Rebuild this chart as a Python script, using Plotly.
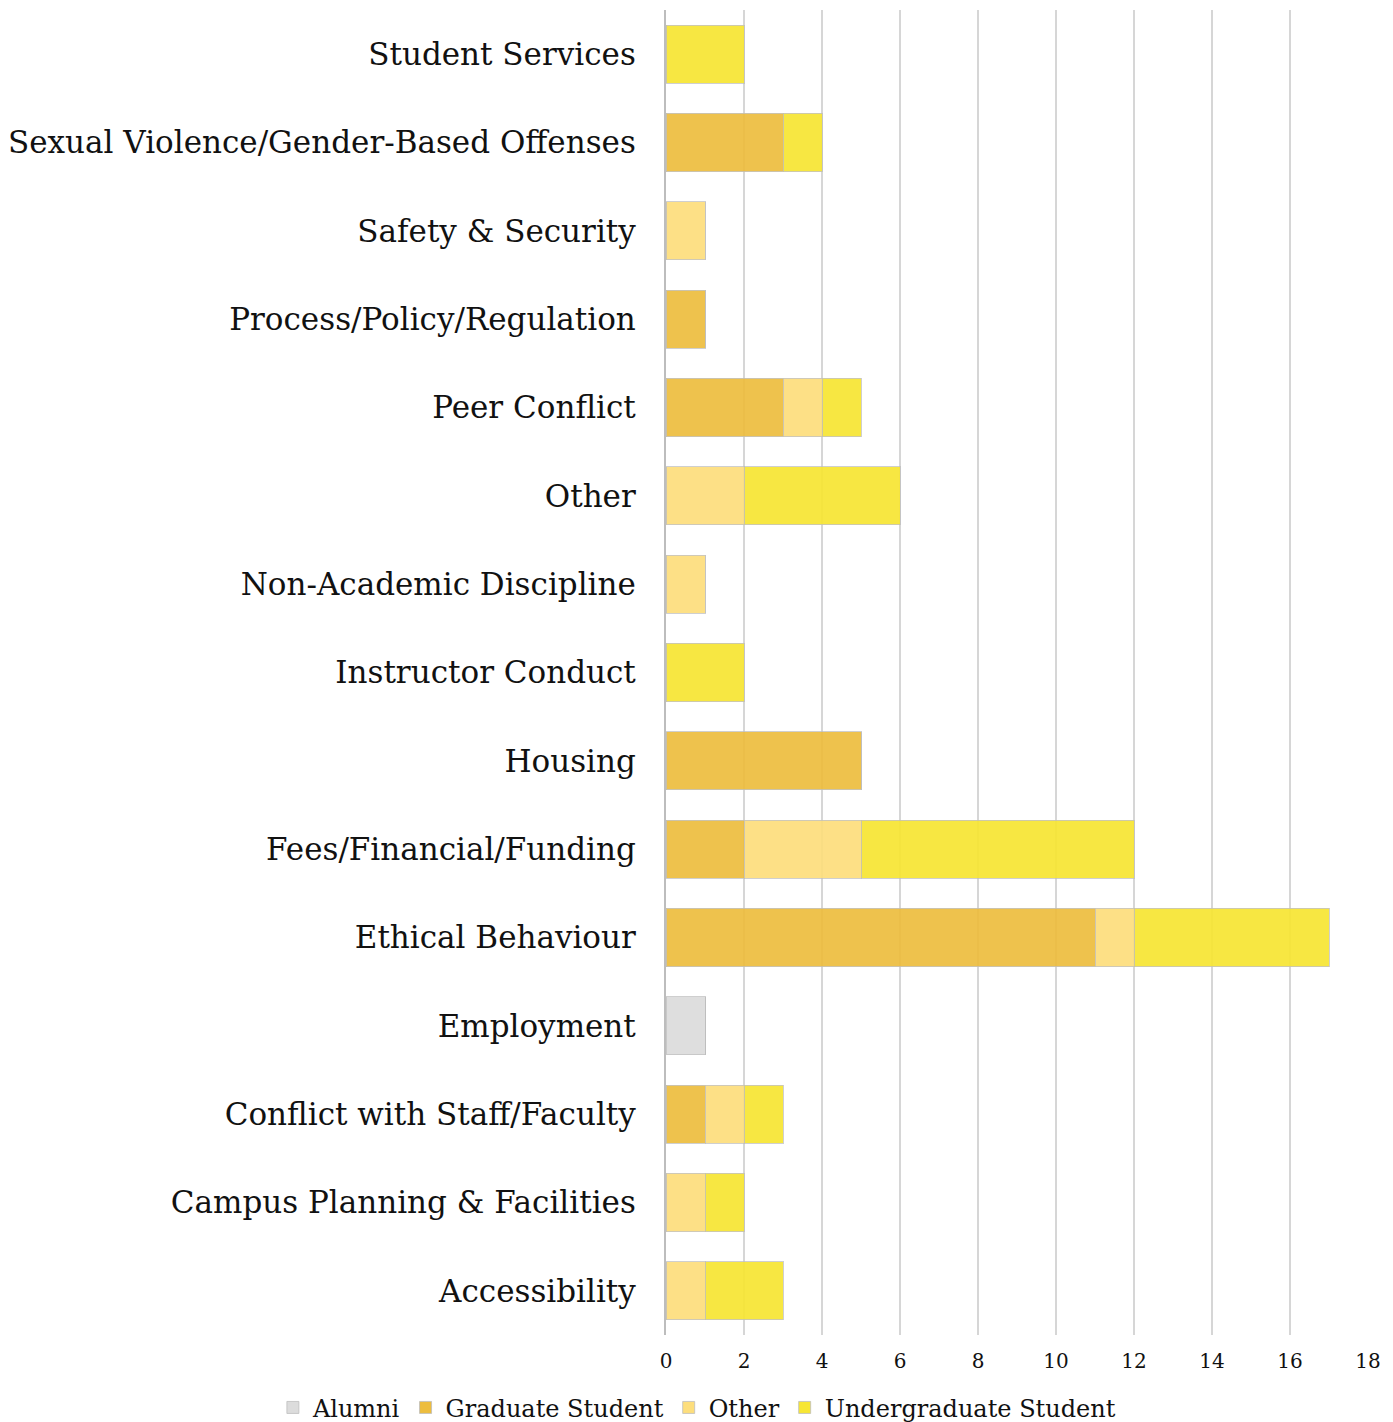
import plotly.graph_objects as go

categories = [
    "Student Services",
    "Sexual Violence/Gender-Based Offenses",
    "Safety & Security",
    "Process/Policy/Regulation",
    "Peer Conflict",
    "Other",
    "Non-Academic Discipline",
    "Instructor Conduct",
    "Housing",
    "Fees/Financial/Funding",
    "Ethical Behaviour",
    "Employment",
    "Conflict with Staff/Faculty",
    "Campus Planning & Facilities",
    "Accessibility",
]

alumni = [0, 0, 0, 0, 0, 0, 0, 0, 0, 0, 0, 1, 0, 0, 0]
graduate = [0, 3, 0, 1, 3, 0, 0, 0, 5, 2, 11, 0, 1, 0, 0]
other = [0, 0, 1, 0, 1, 2, 1, 0, 0, 3, 1, 0, 1, 1, 1]
undergraduate = [2, 1, 0, 0, 1, 4, 0, 2, 0, 7, 5, 0, 1, 1, 2]

x_ticks = [0, 2, 4, 6, 8, 10, 12, 14, 16, 18]
x_ticktext = [str(v) for v in x_ticks]

series = [
    ("Alumni", alumni, "#DCDCDC"),
    ("Graduate Student", graduate, "#EDBD3E"),
    ("Other", other, "#FDDE7C"),
    ("Undergraduate Student", undergraduate, "#F7E633"),
]

fig = go.Figure()
for name, vals, color in series:
    fig.add_trace(go.Bar(
        y=categories, x=vals, name=name, orientation="h",
        marker=dict(color=color, opacity=0.92,
                    line=dict(color="rgba(190,190,190,0.8)", width=1)),
    ))

fig.update_layout(
    barmode="stack",
    bargap=0.34,
    width=1385, height=1414,
    paper_bgcolor="white", plot_bgcolor="white",
    margin=dict(l=658, r=25, t=2, b=87, autoexpand=False),
    font=dict(family="DejaVu Serif", color="#111111"),
    showlegend=True,
    legend=dict(orientation="h", x=-0.56, xanchor="left",
                y=-0.038, yanchor="top", itemwidth=30,
                font=dict(size=24, family="DejaVu Serif"), traceorder="normal"),
)
fig.update_xaxes(
    range=[0, 18], tickvals=x_ticks, ticktext=x_ticktext,
    showgrid=True, gridcolor="#D6D6D6", gridwidth=1.5,
    zeroline=False, showline=False, ticklabelstandoff=12,
    tickfont=dict(size=20, family="DejaVu Serif"),
    automargin=False,
)
fig.update_yaxes(
    categoryorder="array", categoryarray=categories[::-1],
    showline=True, linecolor="#BDBDBD", linewidth=2,
    showgrid=False, ticks="", ticklabelstandoff=22,
    tickfont=dict(size=31, family="DejaVu Serif"),
    automargin=False,
)

fig.write_html("out.html")
